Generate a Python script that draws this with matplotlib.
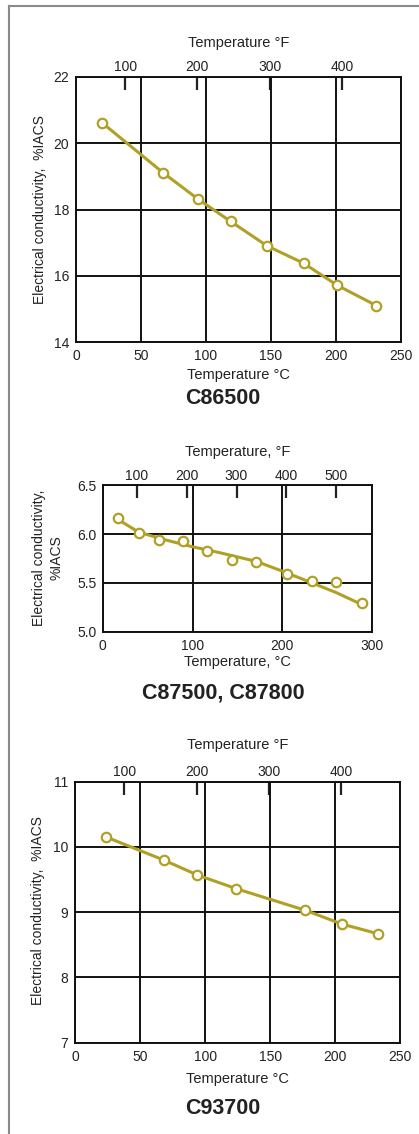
import matplotlib
matplotlib.use("Agg")
import matplotlib.pyplot as plt

plt.rcParams['font.family'] = ['Liberation Sans', 'DejaVu Sans']

# ---------------- data ----------------
# C86500
c865_temp_c = [20, 67, 94, 119, 147, 175, 201, 231]
c865_cond = [20.62, 19.11, 18.31, 17.64, 16.90, 16.38, 15.71, 15.10]

# C87500, C87800 (measured points and fitted curve)
c875_temp_c = [17, 40, 63, 89, 116, 144, 171, 205, 233, 260, 288]
c875_cond = [6.16, 6.01, 5.94, 5.93, 5.83, 5.73, 5.71, 5.59, 5.52, 5.51, 5.29]
c875_fit_temp_c = [17, 40, 70, 100, 130, 171, 200, 233, 260, 288]
c875_fit_cond = [6.15, 6.02, 5.94, 5.87, 5.81, 5.72, 5.62, 5.50, 5.40, 5.28]

# C93700
c937_temp_c = [24, 68, 94, 124, 177, 205, 233]
c937_cond = [10.15, 9.80, 9.57, 9.36, 9.03, 8.82, 8.67]

# axis settings per panel
p1_xticks = [0, 50, 100, 150, 200, 250]
p1_yticks = [14, 16, 18, 20, 22]
p1_fticks = [100, 200, 300, 400]
p2_xticks = [0, 100, 200, 300]
p2_yticks = [5.0, 5.5, 6.0, 6.5]
p2_fticks = [100, 200, 300, 400, 500]
p3_xticks = [0, 50, 100, 150, 200, 250]
p3_yticks = [7, 8, 9, 10, 11]
p3_fticks = [100, 200, 300, 400]

titles = ["C86500", "C87500, C87800", "C93700"]

# ---------------- layout ----------------
W, H = 419, 1134
fig = plt.figure(figsize=(W / 100, H / 100), dpi=100)
fig.patch.set_facecolor('white')

LINE = '#b0a026'
TXT = '#222222'


def px_axes(l, t, r, b):
    return fig.add_axes([l / W, 1 - b / H, (r - l) / W, (b - t) / H])


def fx(x):
    return x / W


def fy(y):
    return 1 - y / H


def style_panel(ax, xticks, yticks, fticks, ylabels_fmt, ypad):
    ax.set_xlim(xticks[0], xticks[-1])
    ax.set_ylim(yticks[0], yticks[-1])
    ax.set_xticks(xticks)
    ax.set_yticks(yticks)
    ax.set_yticklabels([ylabels_fmt.format(v) for v in yticks])
    ax.tick_params(axis='both', length=0, labelsize=10, colors=TXT)
    ax.tick_params(axis='x', pad=5)
    ax.tick_params(axis='y', pad=ypad)
    for s in ax.spines.values():
        s.set_linewidth(1.4)
        s.set_color('#111111')
    ax.grid(True, color='#111111', linewidth=1.4)
    ax.set_axisbelow(True)
    sec = ax.secondary_xaxis('top', functions=(lambda c: c * 9 / 5 + 32,
                                               lambda f: (f - 32) * 5 / 9))
    sec.set_xticks(fticks)
    sec.tick_params(direction='in', length=9, width=1.6, pad=2,
                    labelsize=10, colors=TXT)
    sec.spines['top'].set_visible(False)
    return sec


def plot_series(ax, xl, yl, xm, ym):
    ax.plot(xl, yl, color=LINE, linewidth=2.2, zorder=3, clip_on=False)
    ax.plot(xm, ym, linestyle='none', marker='o', markersize=6.8,
            markerfacecolor='white', markeredgecolor=LINE,
            markeredgewidth=1.6, zorder=4, clip_on=False)


# Panel 1
ax1 = px_axes(76, 77, 401, 342)
style_panel(ax1, p1_xticks, p1_yticks, p1_fticks, '{:g}', 5)
plot_series(ax1, c865_temp_c, c865_cond, c865_temp_c, c865_cond)
cx1 = (76 + 401) / 2
fig.text(fx(cx1), fy(43), 'Temperature °F', ha='center', va='center', fontsize=10.5, color=TXT)
fig.text(fx(cx1), fy(375), 'Temperature °C', ha='center', va='center', fontsize=10.5, color=TXT)
fig.text(fx(40), fy(209.5), 'Electrical conductivity,  %IACS', ha='center', va='center',
         rotation=90, fontsize=10, color=TXT)
fig.text(fx(223), fy(399), titles[0], ha='center', va='center', fontsize=15.5,
         fontweight='bold', color=TXT)

# Panel 2
ax2 = px_axes(102.7, 485.3, 372.3, 631.7)
style_panel(ax2, p2_xticks, p2_yticks, p2_fticks, '{:.1f}', 4.5)
plot_series(ax2, c875_fit_temp_c, c875_fit_cond, c875_temp_c, c875_cond)
cx2 = (102.7 + 372.3) / 2
fig.text(fx(cx2), fy(452), 'Temperature, °F', ha='center', va='center', fontsize=10.5, color=TXT)
fig.text(fx(cx2), fy(662), 'Temperature, °C', ha='center', va='center', fontsize=10.5, color=TXT)
fig.text(fx(47.5), fy(558), 'Electrical conductivity,\n%IACS', ha='center', va='center',
         rotation=90, fontsize=10, color=TXT, linespacing=1.3, multialignment='center')
fig.text(fx(223), fy(693), titles[1], ha='center', va='center', fontsize=15.5,
         fontweight='bold', color=TXT)

# Panel 3
ax3 = px_axes(75.3, 781.7, 400, 1042.7)
style_panel(ax3, p3_xticks, p3_yticks, p3_fticks, '{:g}', 5)
plot_series(ax3, c937_temp_c, c937_cond, c937_temp_c, c937_cond)
cx3 = (75.3 + 400) / 2
fig.text(fx(cx3), fy(745), 'Temperature °F', ha='center', va='center', fontsize=10.5, color=TXT)
fig.text(fx(cx3), fy(1079), 'Temperature °C', ha='center', va='center', fontsize=10.5, color=TXT)
fig.text(fx(38), fy(911), 'Electrical conductivity,  %IACS', ha='center', va='center',
         rotation=90, fontsize=10, color=TXT)
fig.text(fx(223), fy(1108), titles[2], ha='center', va='center', fontsize=15.5,
         fontweight='bold', color=TXT)

# outer frame (top and left edges)
fig.add_artist(plt.Line2D([fx(9), 1], [fy(5.5), fy(5.5)], color='#8a8a8a', linewidth=1.5))
fig.add_artist(plt.Line2D([fx(9), fx(9)], [fy(5.5), 0], color='#8a8a8a', linewidth=1.5))

fig.savefig('out.png', dpi=100, facecolor='white')
